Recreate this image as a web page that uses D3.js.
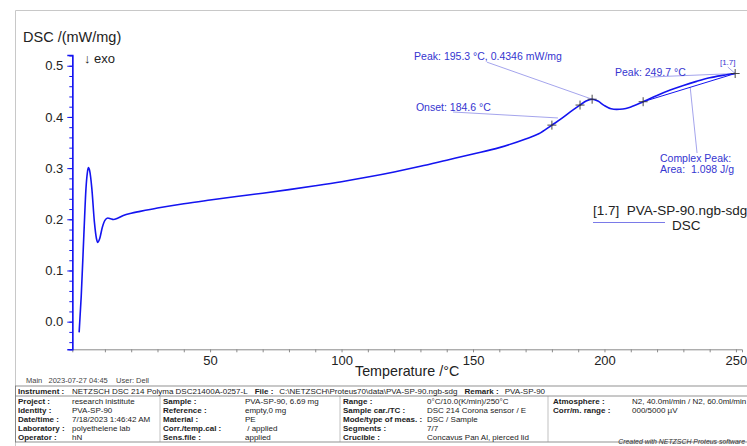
<!DOCTYPE html>
<html>
<head>
<meta charset="utf-8">
<script src="https://cdn.jsdelivr.net/npm/d3@7"></script>
<style>
  html, body { margin: 0; padding: 0; background: #fff; }
  svg { display: block; font-family: "Liberation Sans", Arial, Helvetica, sans-serif; }
  svg text { white-space: pre; }
</style>
</head>
<body>
<svg id="chart" width="747" height="446"></svg>
<script>
// DSC heating curve, PVA-SP-90 (temperature in °C, signal in mW/mg)
const temperature = [0.2, 1.0, 2.0, 2.8, 3.3, 3.7, 4.2, 5.0, 6.0, 6.8, 7.3, 8.0, 9.0, 10.0, 11.1, 12.2, 13.2, 15, 17, 20, 23.4,
  30, 40, 50, 60, 70, 80, 90, 100, 110, 120, 130, 140, 150, 160, 170, 175, 180, 184, 187, 190.7, 193, 195.3, 197.5,
  200, 202.5, 204.6, 207, 210, 214.7, 220, 225, 230, 235, 240, 245, 249.7];
const dsc = [-0.021, 0.05, 0.17, 0.26, 0.29, 0.301, 0.295, 0.262, 0.195, 0.162, 0.155, 0.162, 0.184, 0.198, 0.2025, 0.201, 0.1995, 0.2025, 0.2075, 0.212, 0.2155,
  0.222, 0.2305, 0.2377, 0.2445, 0.251, 0.258, 0.2655, 0.2735, 0.2825, 0.2925, 0.3035, 0.3155, 0.3275, 0.34, 0.357, 0.367, 0.384, 0.398, 0.41, 0.4232, 0.431, 0.4346, 0.431,
  0.422, 0.416, 0.4148, 0.4155, 0.4195, 0.4297, 0.442, 0.4525, 0.4615, 0.4695, 0.4765, 0.4812, 0.4848];

const xTickLabels = [50, 100, 150, 200, 250];
const yTickLabels = [0.0, 0.1, 0.2, 0.3, 0.4, 0.5];

// evaluation points marked with crosses
const markerTemps = [180, 190.7, 195.3, 214.7, 249.7];
// complex peak baseline endpoints
const baselineTemps = [214.7, 249.7];

// annotation texts
const peakLabel = "Peak: 195.3 °C, 0.4346 mW/mg";
const onsetLabel = "Onset: 184.6 °C";
const peak2Label = "Peak: 249.7 °C";
const complexLabels = ["Complex Peak:", "Area:  1.098 J/g"];
const curveTag = "[1.7]";

const legendFile = "[1.7]  PVA-SP-90.ngb-sdg";
const legendSignal = "DSC";

// info table
const instrumentRow = [["Instrument :", "NETZSCH DSC 214 Polyma DSC21400A-0257-L"], ["File :", "C:\\NETZSCH\\Proteus70\\data\\PVA-SP-90.ngb-sdg"], ["Remark :", "PVA-SP-90"]];
const infoCol1 = [["Project :", "research inistitute"], ["Identity :", "PVA-SP-90"], ["Date/time :", "7/18/2023 1:46:42 AM"], ["Laboratory :", "polyethelene lab"], ["Operator :", "hN"]];
const infoCol2 = [["Sample :", "PVA-SP-90, 6.69 mg"], ["Reference :", "empty,0 mg"], ["Material :", "PE"], ["Corr./temp.cal :", " / applied"], ["Sens.file :", "applied"]];
const infoCol3 = [["Range :", "0°C/10.0(K/min)/250°C"], ["Sample car./TC :", "DSC 214 Corona sensor / E"], ["Mode/type of meas. :", "DSC / Sample"], ["Segments :", "7/7"], ["Crucible :", "Concavus Pan Al, pierced lid"]];
const infoCol4 = [["Atmosphere :", "N2, 40.0ml/min / N2, 60.0ml/min"], ["Corr/m. range :", "000/5000 µV"]];
const headerLine = "Main   2023-07-27 04:45    User: Dell";
const footerLine = "Created with NETZSCH Proteus software";

const svg = d3.select("#chart");
const curveColor = "#1414f0";
const annColor = "#3535d0";
const leaderColor = "#9a9aea";

const x = d3.scaleLinear().domain([-2.4, 252.3]).range([72.3, 742]);
const y = d3.scaleLinear().domain([-0.054, 0.521]).range([349.3, 55]);

const pts = temperature.map((t, i) => ({ t, v: dsc[i] }));
const valueAt = t => pts[temperature.indexOf(t)].v;

// outer frame
svg.append("path").attr("d", "M15.5,446 V10.5 H747").attr("fill", "none").attr("stroke", "#c8c8c8").attr("stroke-width", 1);

// x axis
const xAxis = d3.axisBottom(x)
  .tickValues(d3.range(10, 251, 10))
  .tickSize(3)
  .tickFormat(d => xTickLabels.includes(d) ? d : "");
const gx = svg.append("g").attr("transform", `translate(0,${y.range()[0]})`).call(xAxis);
gx.select(".domain").attr("stroke", "#8a8a8a");
gx.selectAll(".tick line").attr("stroke", "#8a8a8a");
gx.selectAll(".tick text").attr("fill", "#222").attr("font-size", 13)
  .attr("font-family", "Liberation Sans, Arial, sans-serif");

// y axis (minor + major ticks)
const gyMinor = svg.append("g").attr("transform", `translate(${x.range()[0]},0)`)
  .call(d3.axisLeft(y).tickValues(d3.range(-0.04, 0.521, 0.02)).tickSize(3).tickFormat(""));
gyMinor.selectAll("line, path").attr("stroke", curveColor);
const gy = svg.append("g").attr("transform", `translate(${x.range()[0]},0)`)
  .call(d3.axisLeft(y).tickValues(yTickLabels).tickSize(5).tickFormat(d3.format(".1f")));
gy.select(".domain").attr("stroke", curveColor).attr("stroke-width", 1.5);
gy.selectAll(".tick line").attr("stroke", curveColor);
gy.selectAll(".tick text").attr("fill", "#222").attr("font-size", 13).attr("x", -9)
  .attr("font-family", "Liberation Sans, Arial, sans-serif");

// axis titles
svg.append("text").attr("x", 23).attr("y", 42).attr("font-size", 14.5).attr("fill", "#222").text("DSC /(mW/mg)");
svg.append("text").attr("x", 84).attr("y", 63).attr("font-size", 13).attr("fill", "#222").text("\u2193 exo");
svg.append("text").attr("x", 355).attr("y", 376).attr("font-size", 14.3).attr("fill", "#222").text("Temperature /°C");

// leader lines, endpoints in data units
const leaders = [
  [[155.3, 0.507], [195.3, valueAt(195.3)]],
  [[142.4, 0.4096], [182.3, 0.398]],
  [[217.3, 0.478], [249.7, valueAt(249.7)]],
  [[246.9, 0.4975], [249.7, valueAt(249.7)]],
  [[235.2, 0.3295], [232.6, 0.458]]
];
svg.append("g").selectAll("line").data(leaders).join("line")
  .attr("x1", d => x(d[0][0])).attr("y1", d => y(d[0][1]))
  .attr("x2", d => x(d[1][0])).attr("y2", d => y(d[1][1]))
  .attr("stroke", leaderColor).attr("stroke-width", 0.9);

// complex peak baseline
svg.append("line")
  .attr("x1", x(baselineTemps[0])).attr("y1", y(valueAt(baselineTemps[0])))
  .attr("x2", x(baselineTemps[1])).attr("y2", y(valueAt(baselineTemps[1])))
  .attr("stroke", curveColor).attr("stroke-width", 1);

// DSC curve
const line = d3.line().x(d => x(d.t)).y(d => y(d.v)).curve(d3.curveMonotoneX);
svg.append("path").datum(pts).attr("d", line)
  .attr("fill", "none").attr("stroke", curveColor).attr("stroke-width", 1.6).attr("stroke-linejoin", "round");

// evaluation crosses
svg.append("g").selectAll("path").data(markerTemps).join("path")
  .attr("d", t => {
    const cx = x(t), cy = y(valueAt(t)), s = 4.5;
    return `M${cx - s},${cy}H${cx + s}M${cx},${cy - s}V${cy + s}`;
  })
  .attr("stroke", "#333").attr("stroke-width", 0.9);

// annotation texts
const ann = svg.append("g").attr("fill", annColor).attr("font-size", 10.5);
ann.append("text").attr("x", x(127.6)).attr("y", y(0.511)).text(peakLabel);
ann.append("text").attr("x", x(128.3)).attr("y", y(0.4115)).text(onsetLabel);
ann.append("text").attr("x", x(204)).attr("y", y(0.480)).text(peak2Label);
ann.append("text").attr("x", x(221.1)).attr("y", y(0.312)).text(complexLabels[0]);
ann.append("text").attr("x", x(221.1)).attr("y", y(0.2904)).text(complexLabels[1]);
ann.append("text").attr("x", x(243.9)).attr("y", y(0.5014)).attr("font-size", 8).text(curveTag);

// legend
svg.append("text").attr("x", 593).attr("y", 214.5).attr("font-size", 13.5).attr("fill", "#222").text(legendFile);
svg.append("line").attr("x1", 593).attr("x2", 665).attr("y1", 222.5).attr("y2", 222.5).attr("stroke", "#7a7ae8").attr("stroke-width", 1);
svg.append("text").attr("x", 672).attr("y", 229.5).attr("font-size", 13.5).attr("fill", "#222").text(legendSignal);

// header line above table
svg.append("text").attr("x", 26).attr("y", 383).attr("font-size", 7.5).attr("fill", "#444").text(headerLine);

// info table
const tbl = svg.append("g").attr("font-size", 8).attr("fill", "#222");
const tTop = 386, rowH = 9, instrH = 10;
const tLeft = 15.5, tRight = 747;
tbl.append("rect").attr("x", tLeft).attr("y", tTop).attr("width", tRight - tLeft + 2).attr("height", instrH + rowH * 5 + 1)
  .attr("fill", "none").attr("stroke", "#777").attr("stroke-width", 0.8);
tbl.append("line").attr("x1", tLeft).attr("x2", tRight).attr("y1", tTop + instrH).attr("y2", tTop + instrH)
  .attr("stroke", "#777").attr("stroke-width", 0.8);
[160, 340, 548].forEach(vx => tbl.append("line").attr("x1", vx).attr("x2", vx)
  .attr("y1", tTop + instrH).attr("y2", tTop + instrH + rowH * 5 + 1).attr("stroke", "#999").attr("stroke-width", 0.6));

// instrument row: label/value pairs laid out one after another
let cursor = 18;
instrumentRow.forEach((c, i) => {
  const lab = tbl.append("text").attr("x", cursor).attr("y", tTop + 8).attr("font-weight", "bold").text(c[0]);
  cursor = i === 0 ? 72 : cursor + lab.node().getComputedTextLength() + 6;
  const val = tbl.append("text").attr("x", cursor).attr("y", tTop + 8).text(c[1]);
  cursor += val.node().getComputedTextLength() + 7;
});
const cols = [[infoCol1, 18, 72], [infoCol2, 163, 245], [infoCol3, 343, 427], [infoCol4, 553, 632]];
cols.forEach(([rows, lx, vx]) => rows.forEach((r, i) => {
  const by = tTop + instrH + rowH * i + 7.5;
  tbl.append("text").attr("x", lx).attr("y", by).attr("font-weight", "bold").text(r[0]);
  tbl.append("text").attr("x", vx).attr("y", by).text(r[1]);
}));
// credit line, right-aligned inside the page
svg.append("text").attr("x", 745).attr("y", 444).attr("text-anchor", "end")
  .attr("font-size", 6.9).attr("font-style", "italic").attr("fill", "#333").text(footerLine);
</script>
</body>
</html>
